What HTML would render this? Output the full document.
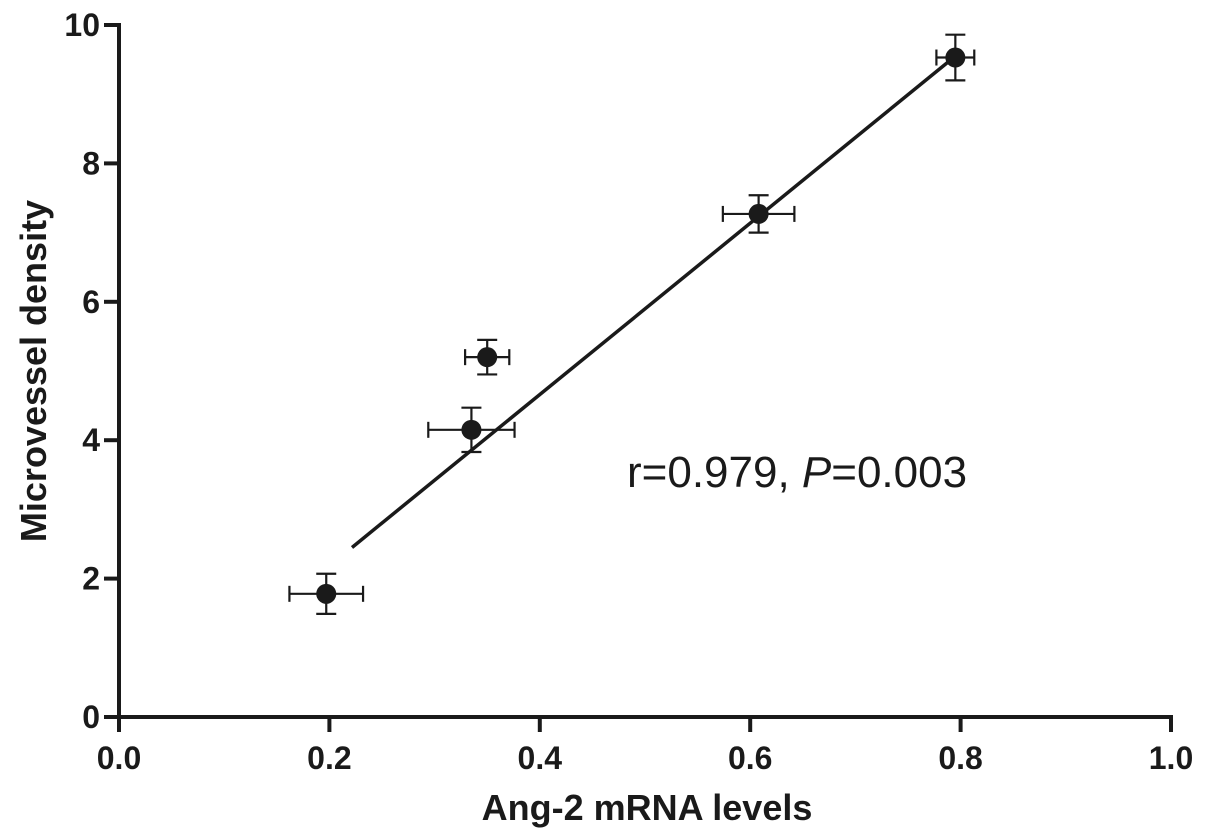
<!DOCTYPE html>
<html><head><meta charset="utf-8"><style>
html,body{margin:0;padding:0;background:#fff}
svg{display:block;font-family:"Liberation Sans",Arial,sans-serif}
</style></head><body>
<svg id="chart" width="1205" height="840">
<g id="axes"></g>
<g id="marks"></g>
<text x="647" y="820" text-anchor="middle" font-size="36" font-weight="bold" fill="#1a1a1a">Ang-2 mRNA levels</text>
<text transform="translate(46,371) rotate(-90)" text-anchor="middle" font-size="36" font-weight="bold" fill="#1a1a1a">Microvessel density</text>
<text x="627" y="487" font-size="44" fill="#1a1a1a">r=0.979, <tspan font-style="italic">P</tspan>=0.003</text>
</svg>
<script>
const xVals=[0.197,0.335,0.35,0.608,0.795];
const yVals=[1.78,4.15,5.2,7.27,9.53];
const xErr=[0.035,0.041,0.021,0.034,0.018];
const yErr=[0.29,0.32,0.25,0.27,0.33];
const xTicks=[0,0.2,0.4,0.6,0.8,1.0];
const xTickLabels=["0.0","0.2","0.4","0.6","0.8","1.0"];
const yTicks=[0,2,4,6,8,10];
const yTickLabels=["0","2","4","6","8","10"];
const fitX=[0.2215,0.795];
const fitY=[2.45,9.55];
const X=v=>119+v*1052, Y=v=>717-v*69.2;
const NS="http://www.w3.org/2000/svg";
function mk(p,t,a){const e=document.createElementNS(NS,t);for(const k in a)e.setAttribute(k,a[k]);p.appendChild(e);return e;}
const ax=document.getElementById('axes'), mg=document.getElementById('marks');
const c="#1a1a1a";
let l=mk(ax,'line',{x1:119,y1:717,x2:1173,y2:717,stroke:c,'stroke-width':4});


l=mk(ax,'line',{x1:119,y1:719,x2:119,y2:23,stroke:c,'stroke-width':4});


xTicks.forEach((v,i)=>{
 const t=mk(ax,'line',{x1:X(v),y1:717,x2:X(v),y2:732,stroke:c,'stroke-width':4});
 
 
 const tx=mk(ax,'text',{x:X(v),y:769,'text-anchor':'middle','font-size':32,'font-weight':'bold',fill:c});
 tx.textContent=xTickLabels[i];
 
 
});
yTicks.forEach((v,i)=>{
 const t=mk(ax,'line',{x1:104,y1:Y(v),x2:119,y2:Y(v),stroke:c,'stroke-width':4});
 
 
 const tx=mk(ax,'text',{x:100,y:Y(v)+11,'text-anchor':'end','font-size':32,'font-weight':'bold',fill:c});
 tx.textContent=yTickLabels[i];
 
 
});
const fit=mk(mg,'line',{x1:X(fitX[0]),y1:Y(fitY[0]),x2:X(fitX[1]),y2:Y(fitY[1]),stroke:c,'stroke-width':3.5});


xVals.forEach((xv,i)=>{
 const g=mk(mg,'g',{stroke:c,'stroke-width':2.2});
 
 
 const cx=X(xv), cy=Y(yVals[i]);
 const x0=X(xv-xErr[i]), x1=X(xv+xErr[i]), y0=Y(yVals[i]+yErr[i]), y1=Y(yVals[i]-yErr[i]);
 mk(g,'line',{x1:x0,y1:cy,x2:x1,y2:cy});
 mk(g,'line',{x1:x0,y1:cy-8,x2:x0,y2:cy+8});
 mk(g,'line',{x1:x1,y1:cy-8,x2:x1,y2:cy+8});
 mk(g,'line',{x1:cx,y1:y0,x2:cx,y2:y1});
 mk(g,'line',{x1:cx-10,y1:y0,x2:cx+10,y2:y0});
 mk(g,'line',{x1:cx-10,y1:y1,x2:cx+10,y2:y1});
 const p=mk(mg,'circle',{cx:cx,cy:cy,r:10,fill:c});
 
 
});
</script>
</body></html>
